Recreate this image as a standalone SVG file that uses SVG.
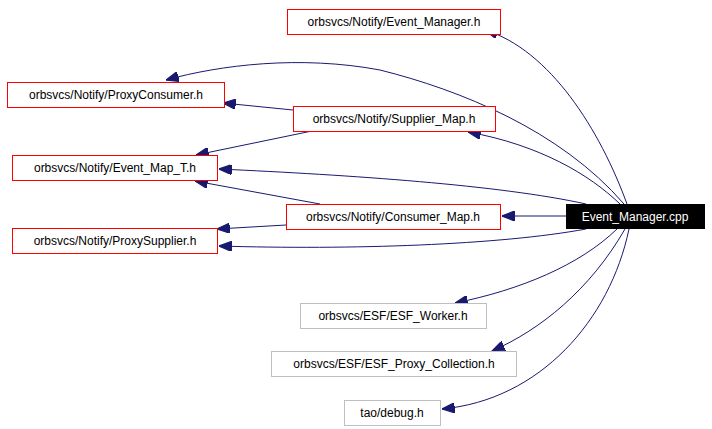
<svg xmlns="http://www.w3.org/2000/svg" width="712" height="429" viewBox="0 0 712 429">
<style>
.n rect{fill:#fff;stroke:#f00;stroke-width:1}
.g rect{fill:#fff;stroke:#bfbfbf;stroke-width:1}
text{font-family:"Liberation Sans",Arial,sans-serif;font-size:12px;text-anchor:middle;fill:#000}
#edges path{fill:none;stroke:#191970;stroke-width:1;marker-end:url(#a)}
</style>
<defs><marker id="a" viewBox="0 0 10 8" refX="10" refY="4" markerWidth="13" markerHeight="10" markerUnits="userSpaceOnUse" orient="auto"><path d="M0,0L10,4L0,8z" fill="#191970" stroke="#191970"/></marker></defs>
<rect width="712" height="429" fill="#fff"/>
<g id="edges">
<path d="M627,204C600,130 550,50 485,30"/>
<path d="M624,204C560,130 460,90 380,70C300,55 220,65 166,80"/>
<path d="M620,204C590,175 540,145 468,132"/>
<path d="M586,204C500,185 350,175 219,169"/>
<path d="M566,216L502,216"/>
<path d="M586,229C500,245 350,250 219,246"/>
<path d="M617,229C580,265 520,290 455,303"/>
<path d="M625,229C590,290 540,330 492,351"/>
<path d="M629,229C610,320 540,400 442,409"/>
<path d="M293,110L223,103"/>
<path d="M312,131L196,155"/>
<path d="M320,204L195,181"/>
<path d="M286,225L217,229"/>
</g>
<g id="event_manager_h" class="n"><rect x="287.5" y="9.5" width="213" height="25"/><text x="394" y="26">orbsvcs/Notify/Event_Manager.h</text></g>
<g id="proxyconsumer_h" class="n"><rect x="7.5" y="82.5" width="217" height="25"/><text x="116" y="99">orbsvcs/Notify/ProxyConsumer.h</text></g>
<g id="supplier_map_h" class="n"><rect x="293.5" y="106.5" width="202" height="25"/><text x="394" y="123">orbsvcs/Notify/Supplier_Map.h</text></g>
<g id="event_map_t_h" class="n"><rect x="12.5" y="155.5" width="205" height="25"/><text x="115" y="172">orbsvcs/Notify/Event_Map_T.h</text></g>
<g id="consumer_map_h" class="n"><rect x="286.5" y="204.5" width="214" height="25"/><text x="393" y="221">orbsvcs/Notify/Consumer_Map.h</text></g>
<g id="event_manager_cpp"><rect x="566" y="204" width="139" height="25" fill="#000"/><text x="635" y="221" fill="#fff" style="fill:#fff">Event_Manager.cpp</text></g>
<g id="proxysupplier_h" class="n"><rect x="12.5" y="228.5" width="205" height="25"/><text x="115" y="245">orbsvcs/Notify/ProxySupplier.h</text></g>
<g id="esf_worker_h" class="g"><rect x="300.5" y="303.5" width="186" height="25"/><text x="393" y="320">orbsvcs/ESF/ESF_Worker.h</text></g>
<g id="esf_proxy_collection_h" class="g"><rect x="271.5" y="351.5" width="245" height="25"/><text x="394" y="368">orbsvcs/ESF/ESF_Proxy_Collection.h</text></g>
<g id="debug_h" class="g"><rect x="344.5" y="400.5" width="96" height="25"/><text x="392" y="417">tao/debug.h</text></g>
</svg>
